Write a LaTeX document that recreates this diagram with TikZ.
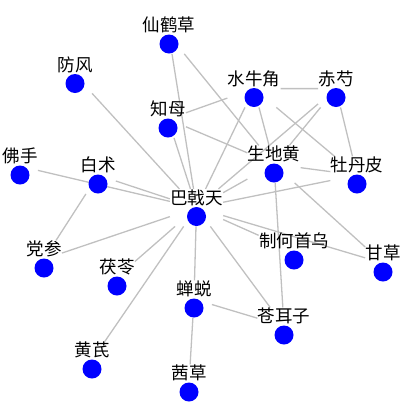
\documentclass[tikz,border=0pt]{standalone}
\usepackage{fontspec}
\newfontfamily\cjk{Noto Sans CJK SC}
\usetikzlibrary{fit,backgrounds}
\definecolor{edgegray}{RGB}{192,192,192}
\definecolor{dotblue}{RGB}{0,0,255}
\tikzset{
  lab/.style={font=\cjk\fontsize{17.5}{20}\selectfont, anchor=base, inner sep=0pt, text=black},
  dot/.style={circle, fill=dotblue, draw=none, minimum size=19pt, inner sep=0pt},
  hbox/.style={draw=none, inner sep=0pt, rectangle},
  edge/.style={draw=edgegray, line width=1.3pt}
}
\newcommand\herb[4]{%
  \node[lab] (#1-t) at (#2,#3) {#4};
  \node[dot] (#1-d) at (#2,#3+12.5) {};
  \node[hbox, fit=(#1-t)(#1-d)] (#1) {};
}
\begin{document}
\begin{tikzpicture}[x=1pt,y=-1pt]
\useasboundingbox (0,0) rectangle (406,405);
\herb{xhc}{169}{31.5}{仙鹤草}
\herb{ff}{75}{71}{防风}
\herb{zm}{168}{115.5}{知母}
\herb{fs}{20}{162.5}{佛手}
\herb{bz}{98}{171.5}{白术}
\herb{bjt}{196.5}{204}{巴戟天}
\herb{sng}{254}{85}{水牛角}
\herb{cs}{336}{85}{赤芍}
\herb{sdh}{274}{160.5}{生地黄}
\herb{mdp}{357}{171.5}{牡丹皮}
\herb{ds}{44}{255.5}{党参}
\herb{fl}{117}{273.5}{茯苓}
\herb{ct}{194}{295.5}{蝉蜕}
\herb{hq}{92}{356.5}{黄芪}
\herb{qc}{189}{379.5}{茜草}
\herb{zhsw}{294}{247.5}{制何首乌}
\herb{gc}{383}{259.5}{甘草}
\herb{cez}{284}{322.5}{苍耳子}
\begin{scope}[on background layer]
\draw[edge] (ff) -- (bjt);
\draw[edge] (xhc) -- (bjt);
\draw[edge] (xhc) -- (sdh);
\draw[edge] (zm) -- (bjt);
\draw[edge] (zm) -- (sng);
\draw[edge] (zm) -- (sdh);
\draw[edge] (fs) -- (bjt);
\draw[edge] (bz) -- (bjt);
\draw[edge] (bz) -- (ds);
\draw[edge] (ds) -- (bjt);
\draw[edge] (fl) -- (bjt);
\draw[edge] (hq) -- (bjt);
\draw[edge] (bjt) -- (ct);
\draw[edge] (ct) -- (qc);
\draw[edge] (ct) -- (cez);
\draw[edge] (bjt) -- (cez);
\draw[edge] (bjt) -- (zhsw);
\draw[edge] (bjt) -- (gc);
\draw[edge] (sdh) -- (cez);
\draw[edge] (sdh) -- (gc);
\draw[edge] (bjt) -- (mdp);
\draw[edge] (sdh) -- (mdp);
\draw[edge] (sng) -- (cs);
\draw[edge] (cs) -- (bjt);
\draw[edge] (cs) -- (sdh);
\draw[edge] (sng) -- (sdh);
\draw[edge] (sng) -- (bjt);
\draw[edge] (sng) -- (mdp);
\draw[edge] (cs) -- (mdp);
\draw[edge] (bjt) -- (sdh);
\end{scope}
\end{tikzpicture}
\end{document}
